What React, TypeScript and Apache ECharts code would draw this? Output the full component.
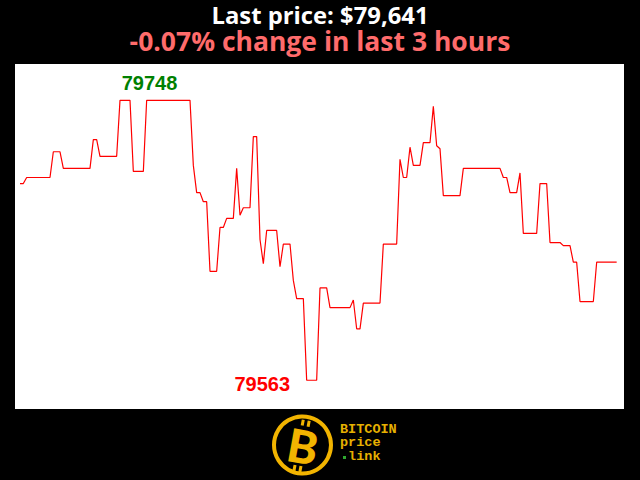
import React, { useEffect, useRef } from "react";
import * as echarts from "echarts";

// minute index over the last 3 hours
const minutes: number[] = Array.from({ length: 180 }, (_, i) => i);

// BTC price per minute
const prices: number[] = [
  79693, 79693,
  79697, 79697, 79697, 79697, 79697, 79697, 79697, 79697,
  79714, 79714, 79714,
  79703, 79703, 79703, 79703, 79703, 79703, 79703, 79703, 79703,
  79722, 79722,
  79711, 79711, 79711, 79711, 79711, 79711,
  79748, 79748, 79748, 79748,
  79701, 79701, 79701, 79701,
  79748, 79748, 79748, 79748, 79748, 79748, 79748, 79748, 79748, 79748, 79748, 79748, 79748, 79748,
  79705,
  79687, 79687,
  79681, 79681,
  79635, 79635, 79635,
  79664, 79664,
  79670, 79670, 79670,
  79703,
  79672,
  79677, 79677, 79677,
  79724, 79724,
  79656,
  79640,
  79662, 79662, 79662, 79662,
  79638,
  79653, 79653, 79653,
  79629,
  79617, 79617, 79617,
  79563, 79563, 79563, 79563,
  79624, 79624, 79624,
  79611, 79611, 79611, 79611, 79611, 79611, 79611,
  79616,
  79597, 79597,
  79614, 79614, 79614, 79614, 79614, 79614,
  79653, 79653, 79653, 79653, 79653,
  79709,
  79697, 79697,
  79717,
  79705, 79705, 79705,
  79720, 79720, 79720,
  79744,
  79718,
  79716,
  79685, 79685, 79685, 79685, 79685, 79685,
  79703, 79703, 79703, 79703, 79703, 79703, 79703, 79703, 79703, 79703, 79703, 79703,
  79697, 79697,
  79687, 79687, 79687,
  79700,
  79660, 79660, 79660, 79660, 79660,
  79693, 79693, 79693,
  79654, 79654, 79654, 79654,
  79652, 79652, 79652,
  79641, 79641,
  79615, 79615, 79615, 79615, 79615,
  79641, 79641, 79641, 79641, 79641, 79641, 79641,
];

const titleLine1 = "Last price: $79,641";
const titleLine2 = "-0.07% change in last 3 hours";
const logoLines = ["BITCOIN", "price", " link"];

export default function App() {
  const ref = useRef<HTMLDivElement>(null);

  useEffect(() => {
    if (!ref.current) return;
    const chart = echarts.init(ref.current, null, { renderer: "svg" });

    const maxVal = Math.max(...prices);
    const minVal = Math.min(...prices);
    const maxIdx = prices.indexOf(maxVal);
    const minIdx = prices.indexOf(minVal);

    const gold = "#f2b400";
    const logoText = "#e6b000";
    const monoFont = "bold 13.5px 'Liberation Mono'";

    chart.setOption({
      animation: false,
      backgroundColor: "#000000",
      grid: {
        left: 15,
        right: 16,
        top: 64,
        bottom: 71,
        show: true,
        backgroundColor: "#ffffff",
        borderWidth: 0,
      },
      xAxis: { type: "value", min: -1.5, max: 181.2, show: false },
      yAxis: { type: "value", min: 79544, max: 79772, show: false },
      series: [
        {
          type: "line",
          data: minutes.map((m, i) => [m, prices[i]]),
          symbol: "none",
          lineStyle: { color: "#ff0000", width: 1.2 },
          markPoint: {
            symbol: "circle",
            symbolSize: 0,
            label: {
              show: true,
              position: "inside",
              fontFamily: "Liberation Sans",
              fontWeight: "bold",
              fontSize: 20,
              formatter: "{c}",
            },
            data: [
              {
                coord: [minutes[maxIdx], maxVal],
                value: maxVal,
                label: { offset: [29.5, -17], color: "#008000" },
              },
              {
                coord: [minutes[minIdx], minVal],
                value: minVal,
                label: { offset: [-44.4, 3.8], color: "#ff0000" },
              },
            ],
          },
        },
      ],
      graphic: [
        {
          type: "text",
          x: 320,
          y: 15,
          style: {
            text: titleLine1,
            fill: "#ffffff",
            font: "bold 23.8px 'Open Sans'",
            lineHeight: 22,
            align: "center",
            verticalAlign: "middle",
          },
        },
        {
          type: "text",
          x: 320,
          y: 40.5,
          style: {
            text: titleLine2,
            fill: "#ff6b6b",
            font: "bold 26.5px 'Open Sans'",
            lineHeight: 24,
            align: "center",
            verticalAlign: "middle",
          },
        },
        {
          type: "circle",
          shape: { cx: 302.5, cy: 445, r: 28.5 },
          style: { fill: "none", stroke: gold, lineWidth: 4 },
        },
        {
          type: "text",
          x: 303,
          y: 446,
          rotation: -0.18,
          style: {
            text: "B",
            fill: gold,
            font: "900 46px Lato",
            align: "center",
            verticalAlign: "middle",
          },
        },
        {
          type: "rect",
          shape: { x: 297, y: 420, width: 3, height: 6 },
          rotation: -0.18,
          originX: 303,
          originY: 446,
          style: { fill: gold },
        },
        {
          type: "rect",
          shape: { x: 303, y: 420, width: 3, height: 6 },
          rotation: -0.18,
          originX: 303,
          originY: 446,
          style: { fill: gold },
        },
        {
          type: "rect",
          shape: { x: 297, y: 466, width: 3, height: 6 },
          rotation: -0.18,
          originX: 303,
          originY: 446,
          style: { fill: gold },
        },
        {
          type: "rect",
          shape: { x: 303, y: 466, width: 3, height: 6 },
          rotation: -0.18,
          originX: 303,
          originY: 446,
          style: { fill: gold },
        },
        {
          type: "text",
          x: 340,
          y: 429.5,
          style: {
            text: logoLines[0],
            fill: logoText,
            font: monoFont,
            lineHeight: 12,
            align: "left",
            verticalAlign: "middle",
          },
        },
        {
          type: "text",
          x: 340,
          y: 442.5,
          style: {
            text: logoLines[1],
            fill: logoText,
            font: monoFont,
            lineHeight: 12,
            align: "left",
            verticalAlign: "middle",
          },
        },
        {
          type: "text",
          x: 340,
          y: 456,
          style: {
            text: logoLines[2],
            fill: logoText,
            font: monoFont,
            lineHeight: 12,
            align: "left",
            verticalAlign: "middle",
          },
        },
        {
          type: "rect",
          shape: { x: 343, y: 456, width: 3, height: 3 },
          style: { fill: "#2fa82f" },
        },
      ],
    });

    return () => chart.dispose();
  }, []);

  return (
    <div
      ref={ref}
      style={{
        position: "fixed",
        left: 0,
        top: 0,
        width: 640,
        height: 480,
        background: "#000",
      }}
    />
  );
}
